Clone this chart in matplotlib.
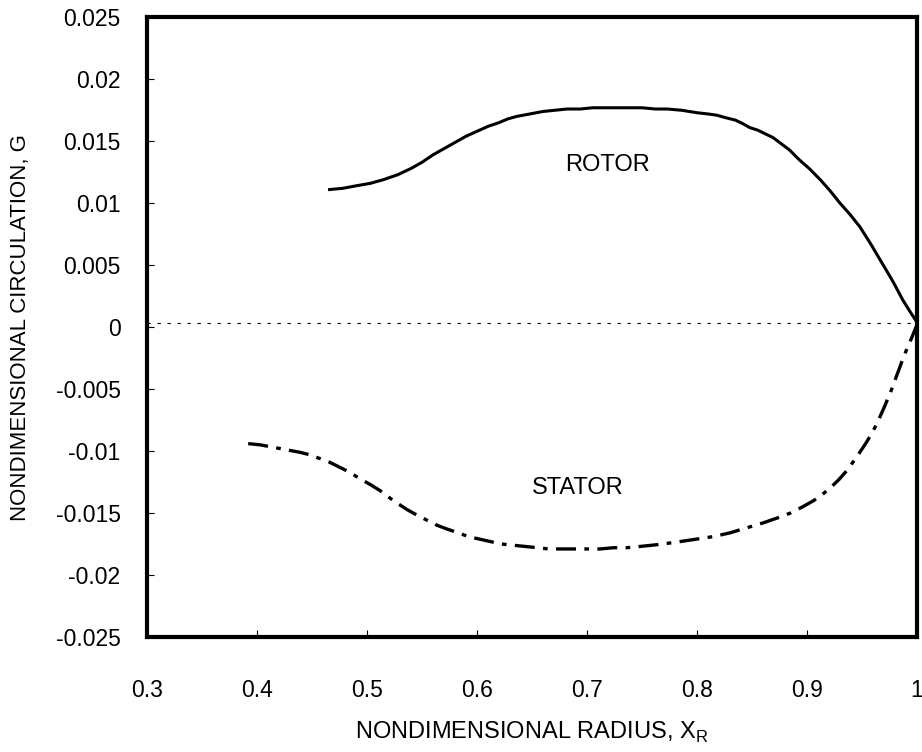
import matplotlib
matplotlib.use("Agg")
import matplotlib.pyplot as plt

plt.rcParams["font.family"] = ["Liberation Sans", "DejaVu Sans"]

# rotor circulation
rotor_x = [0.466, 0.478, 0.49, 0.503, 0.515, 0.528, 0.54, 0.55, 0.56, 0.57, 0.58, 0.59, 0.60,
           0.61, 0.62, 0.628, 0.636, 0.648, 0.66, 0.671, 0.682, 0.694, 0.705, 0.716, 0.727,
           0.74, 0.75, 0.762, 0.773, 0.786, 0.80, 0.81, 0.818, 0.826, 0.835, 0.842, 0.848,
           0.855, 0.862, 0.869, 0.875, 0.884, 0.893, 0.902, 0.912, 0.921, 0.93, 0.939,
           0.948, 0.958, 0.968, 0.978, 0.987, 0.994, 1.0]
rotor_g = [0.0111, 0.0112, 0.0114, 0.0116, 0.0119, 0.0123, 0.0128, 0.0133, 0.0139, 0.0144,
           0.0149, 0.0154, 0.0158, 0.0162, 0.0165, 0.0168, 0.0170, 0.0172, 0.0174, 0.0175,
           0.0176, 0.0176, 0.0177, 0.0177, 0.0177, 0.0177, 0.0177, 0.0176, 0.0176, 0.0175,
           0.0173, 0.0172, 0.0171, 0.0169, 0.0167, 0.0164, 0.0161, 0.0159, 0.0156, 0.0153,
           0.0149, 0.0143, 0.0135, 0.0128, 0.0119, 0.0110, 0.0100, 0.0091, 0.0081, 0.0067,
           0.0052, 0.0037, 0.0022, 0.0012, 0.0004]

# stator circulation
stator_x = [0.392, 0.403, 0.415, 0.427, 0.439, 0.448, 0.457, 0.466, 0.475, 0.484, 0.493,
            0.503, 0.512, 0.524, 0.536, 0.546, 0.555, 0.564, 0.573, 0.583, 0.592, 0.602,
            0.612, 0.622, 0.633, 0.644, 0.655, 0.665, 0.675, 0.688, 0.70, 0.712, 0.724,
            0.736, 0.748, 0.759, 0.769, 0.785, 0.80, 0.815, 0.830, 0.845, 0.860, 0.873,
            0.885, 0.896, 0.906, 0.914, 0.922, 0.929, 0.936, 0.945, 0.954, 0.960, 0.965,
            0.971, 0.977, 0.982, 0.987, 0.991, 0.995, 1.0]
stator_g = [-0.0094, -0.0095, -0.0097, -0.0099, -0.0101, -0.0103, -0.0106, -0.0109, -0.0113,
            -0.0117, -0.0122, -0.0127, -0.0132, -0.0140, -0.0147, -0.0152, -0.0156, -0.0160,
            -0.0163, -0.0166, -0.0169, -0.0171, -0.0173, -0.0175, -0.0176, -0.0177, -0.0178,
            -0.0179, -0.0179, -0.0179, -0.0179, -0.0179, -0.0178, -0.0178, -0.0177, -0.0176,
            -0.0175, -0.0173, -0.0171, -0.0169, -0.0166, -0.0162, -0.0158, -0.0154, -0.0150,
            -0.0145, -0.0140, -0.0135, -0.0129, -0.0123, -0.0116, -0.0105, -0.0093, -0.0084,
            -0.0075, -0.0063, -0.0050, -0.0038, -0.0026, -0.0017, -0.0009, 0.0002]

baseline_g = 0.0003

xticks = [0.3, 0.4, 0.5, 0.6, 0.7, 0.8, 0.9, 1.0]
xticklabels = ["0.3", "0.4", "0.5", "0.6", "0.7", "0.8", "0.9", "1"]
yticks = [0.025, 0.02, 0.015, 0.01, 0.005, 0, -0.005, -0.01, -0.015, -0.02, -0.025]
yticklabels = ["0.025", "0.02", "0.015", "0.01", "0.005", "0", "-0.005", "-0.01", "-0.015", "-0.02", "-0.025"]

fig = plt.figure(figsize=(9.22, 7.52), dpi=100)
ax = fig.add_axes([0.1594, 0.153, 0.8352, 0.824])

ax.axhline(baseline_g, color="black", lw=0.8, linestyle=(0, (3, 6)))
ax.plot(rotor_x, rotor_g, color="black", lw=2.2, solid_joinstyle="round")
ax.plot(stator_x, stator_g, color="black", lw=2.4, linestyle=(0, (6, 2.5, 1.4, 2.5)))

ax.text(0.719, 0.0131, "ROTOR", fontsize=17, ha="center", va="center")
ax.text(0.692, -0.0130, "STATOR", fontsize=17, ha="center", va="center")

ax.set_xlim(0.3, 1.0)
ax.set_ylim(-0.025, 0.025)
ax.set_xticks(xticks)
ax.set_xticklabels(xticklabels)
ax.set_yticks(yticks)
ax.set_yticklabels(yticklabels)
ax.tick_params(direction="in", length=5, width=0.8, labelsize=16.5)
ax.tick_params(axis="y", pad=19)
ax.tick_params(axis="x", pad=30)

for s in ax.spines.values():
    s.set_linewidth(3.0)

ax.set_xlabel("NONDIMENSIONAL RADIUS, X$_\\mathregular{R}$", fontsize=17, labelpad=13)
ax.set_ylabel("NONDIMENSIONAL CIRCULATION, G", fontsize=16, labelpad=18)

fig.savefig("out.png", dpi=100)
